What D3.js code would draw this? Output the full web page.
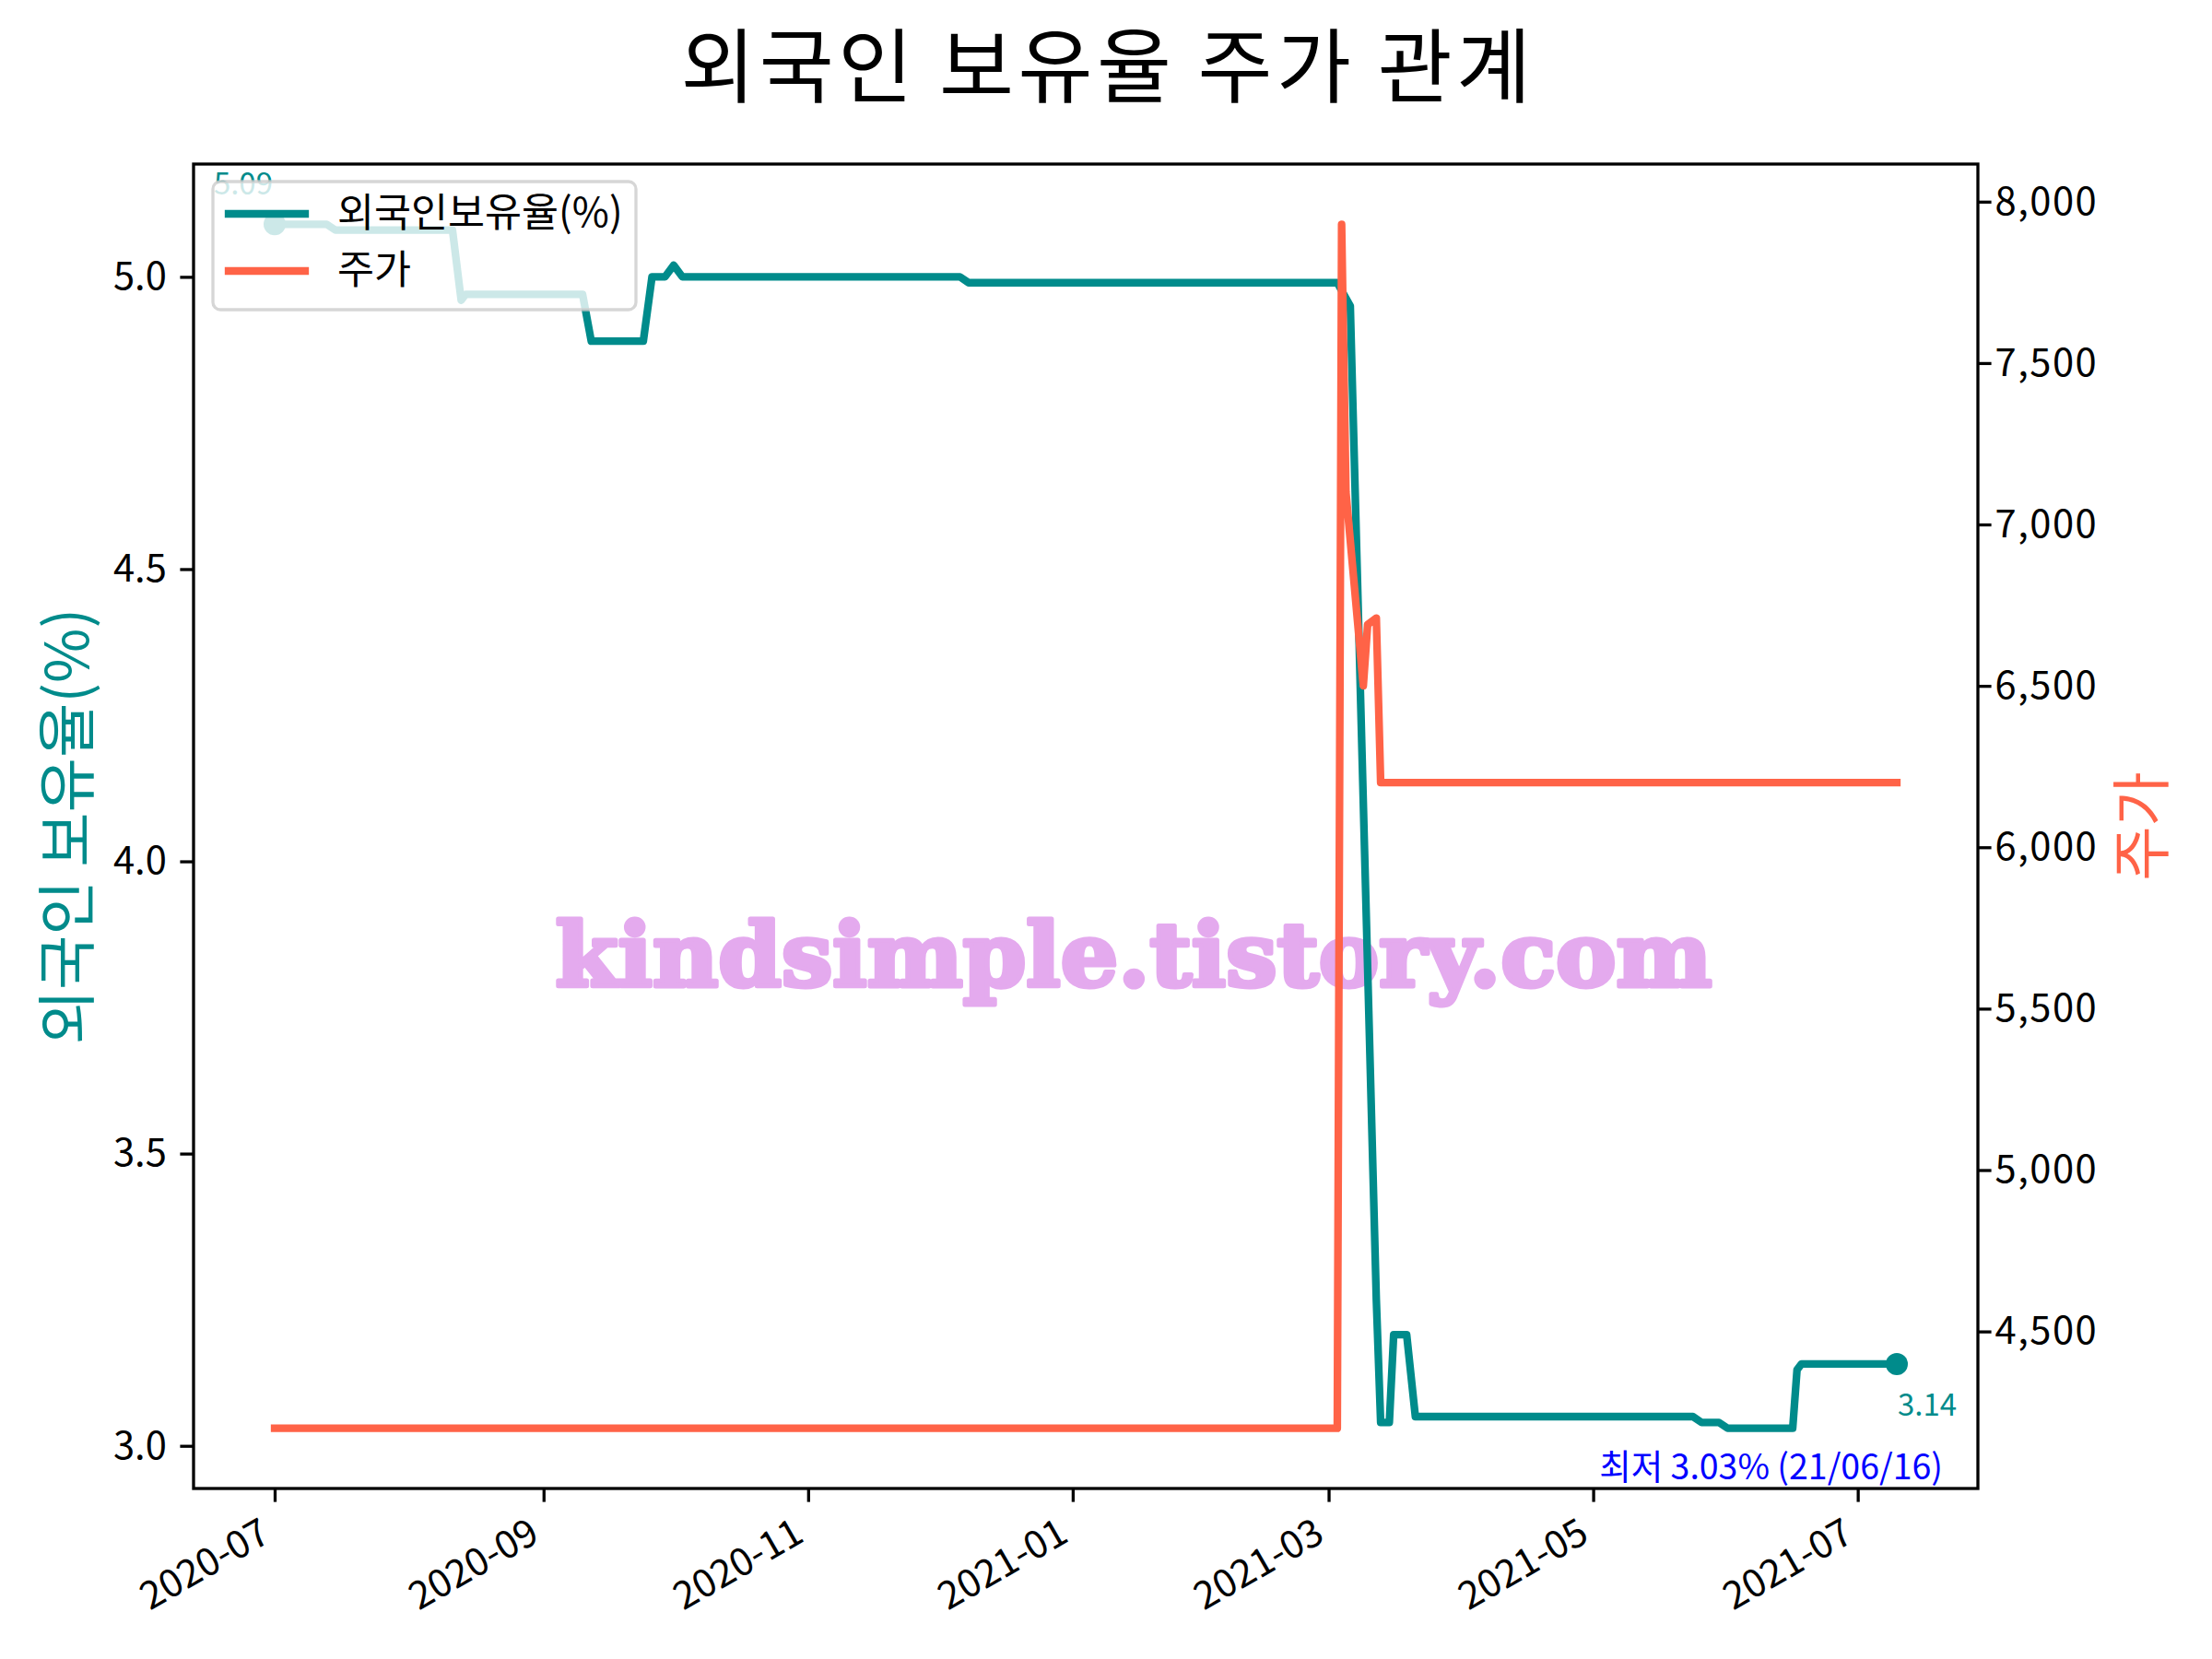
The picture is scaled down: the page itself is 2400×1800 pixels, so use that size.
<!DOCTYPE html>
<html><head><meta charset="utf-8">
<script src="https://cdn.jsdelivr.net/npm/d3@7"></script>
<style>
body{margin:0;background:#fff}
svg{display:block}
text{font-family:"Noto Sans CJK KR","Noto Sans",sans-serif}
</style>
</head><body>
<svg id="chart" width="2400" height="1800"></svg>
<script>
// ---------------- data ----------------
const titleText = "외국인 보유율 주가 관계";
const seriesNames = ["외국인보유율(%)", "주가"];
const leftLabel = "외국인 보유율(%)";
const rightLabel = "주가";
const watermark = "kindsimple.tistory.com";

const pctDates = ["2020-07-01","2020-07-13","2020-07-15","2020-08-11","2020-08-13","2020-08-14",
  "2020-09-10","2020-09-12","2020-09-24","2020-09-26","2020-09-29","2020-10-01","2020-10-03",
  "2020-12-06","2020-12-08","2021-03-03","2021-03-06","2021-03-12","2021-03-13","2021-03-15",
  "2021-03-16","2021-03-19","2021-03-21","2021-05-24","2021-05-26","2021-05-30","2021-06-01",
  "2021-06-16","2021-06-17","2021-06-18","2021-07-10"];
const pctValues = [5.09,5.09,5.08,5.08,4.96,4.97,
  4.97,4.89,4.89,5.00,5.00,5.02,5.00,
  5.00,4.99,4.99,4.95,3.25,3.04,3.04,
  3.19,3.19,3.05,3.05,3.04,3.04,3.03,
  3.03,3.13,3.14,3.14];

const priceDates = ["2020-07-01","2021-03-03","2021-03-04","2021-03-05","2021-03-09",
  "2021-03-10","2021-03-12","2021-03-13","2021-07-10"];
const priceValues = [4200,4200,7930,7100,6500,6690,6710,6200,6200];

const xTickLabels = ["2020-07","2020-09","2020-11","2021-01","2021-03","2021-05","2021-07"];
const yLeftTicks = [3.0,3.5,4.0,4.5,5.0];
const yRightTicks = [4500,5000,5500,6000,6500,7000,7500,8000];

// ---------------- layout ----------------
const W = 2400, H = 1800;
const L = 210, R = 2146, T = 178, B = 1615;
const TEAL = "#008B8B", TOMATO = "#FF6347";
const LW = 8.3, TICK = 14.6, PAD = 14.6, FS = 41.7;

const parse = d3.utcParse("%Y-%m-%d");
const parseM = d3.utcParse("%Y-%m");
const pct = pctDates.map((d,i)=>({date:parse(d), v:pctValues[i]}));
const price = priceDates.map((d,i)=>({date:parse(d), v:priceValues[i]}));

function padExtent(ext){ const s = ext[1]-ext[0]; return [ext[0]-0.05*s, ext[1]+0.05*s]; }

const allDates = pct.map(d=>d.date).concat(price.map(d=>d.date));
const dExt = d3.extent(allDates).map(d=>+d);
const x = d3.scaleUtc().domain(padExtent(dExt).map(d=>new Date(d))).range([L,R]);
const yL = d3.scaleLinear().domain(padExtent(d3.extent(pctValues))).range([B,T]);
const yR = d3.scaleLinear().domain(padExtent(d3.extent(priceValues))).range([B,T]);

const svg = d3.select("#chart");
svg.append("rect").attr("width",W).attr("height",H).attr("fill","#fff");

// title
svg.append("text").attr("x",1202).attr("y",104).attr("text-anchor","middle")
  .attr("font-size",88).attr("letter-spacing",4.5).attr("fill","#000").text(titleText);

// watermark (under lines)
svg.append("text").attr("x",1230).attr("y",1070).attr("text-anchor","middle")
  .attr("font-weight","bold").attr("font-size",96)
  .attr("textLength",1255).attr("lengthAdjust","spacingAndGlyphs")
  .attr("fill","#E4AAEE").attr("stroke","#E4AAEE").attr("stroke-width",5).attr("stroke-linejoin","round")
  .style("font-family","'DejaVu Serif',serif").text(watermark);

// teal line
const lineL = d3.line().x(d=>x(d.date)).y(d=>yL(d.v));
const lineR = d3.line().x(d=>x(d.date)).y(d=>yR(d.v));
svg.append("path").datum(pct).attr("d",lineL).attr("fill","none").attr("stroke",TEAL)
  .attr("stroke-width",LW).attr("stroke-linejoin","round").attr("stroke-linecap","square");

const first = pct[0], last = pct[pct.length-1];
svg.selectAll("circle.end").data([first,last]).join("circle").attr("class","end")
  .attr("cx",d=>x(d.date)).attr("cy",d=>yL(d.v)).attr("r",12).attr("fill",TEAL);

svg.append("text").attr("x",x(first.date)-2).attr("y",yL(first.v)-32).attr("text-anchor","end")
  .attr("font-size",33).attr("fill",TEAL).text(first.v.toFixed(2));
svg.append("text").attr("x",x(last.date)+1).attr("y",yL(last.v)+56).attr("text-anchor","start")
  .attr("font-size",33).attr("fill",TEAL).text(last.v.toFixed(2));

// min annotation
const minV = d3.min(pctValues);
let minIdx = 0; pct.forEach((d,i)=>{ if(d.v===minV) minIdx=i; });
const fmtMin = d3.utcFormat("%y/%m/%d");
svg.append("text").attr("x",2108).attr("y",1605).attr("text-anchor","end")
  .attr("font-size",37.5).attr("fill","#0000FF")
  .text(`최저 ${minV.toFixed(2)}% (${fmtMin(pct[minIdx].date)})`);

// price line
svg.append("path").datum(price).attr("d",lineR).attr("fill","none").attr("stroke",TOMATO)
  .attr("stroke-width",LW).attr("stroke-linejoin","round").attr("stroke-linecap","square");

// axes
function styleAxis(g){
  g.select(".domain").remove();
  g.selectAll(".tick line").attr("stroke","#000").attr("stroke-width",3.3);
  g.selectAll(".tick text").attr("font-size",FS).attr("fill","#000")
    .style("font-family","'Noto Sans CJK KR','Noto Sans',sans-serif");
}
const gL = svg.append("g").attr("transform",`translate(${L},0)`)
  .call(d3.axisLeft(yL).tickValues(yLeftTicks).tickFormat(d3.format(".1f")).tickSize(TICK).tickPadding(PAD));
styleAxis(gL);
const gR = svg.append("g").attr("transform",`translate(${R},0)`)
  .call(d3.axisRight(yR).tickValues(yRightTicks).tickFormat(d3.format(",")).tickSize(TICK).tickPadding(4));
styleAxis(gR);
gR.selectAll(".tick text").attr("letter-spacing",1.5);
const gB = svg.append("g").attr("transform",`translate(0,${B})`)
  .call(d3.axisBottom(x).tickValues(xTickLabels.map(parseM)).tickFormat(d3.utcFormat("%Y-%m")).tickSize(TICK).tickPadding(PAD));
styleAxis(gB);
gB.selectAll(".tick text").attr("text-anchor","end").attr("dy",null)
  .attr("y",null).attr("x",null)
  .attr("transform",`translate(-3,${TICK+PAD+27}) rotate(-30)`);

// spines
svg.append("rect").attr("x",L).attr("y",T).attr("width",R-L).attr("height",B-T)
  .attr("fill","none").attr("stroke","#000").attr("stroke-width",3.3);

// axis labels
svg.append("text").attr("transform",`translate(96,${(T+B)/2}) rotate(-90)`).attr("text-anchor","middle")
  .attr("font-size",64.5).attr("fill",TEAL).text(leftLabel);
svg.append("text").attr("transform",`translate(2347,${(T+B)/2}) rotate(-90)`).attr("text-anchor","middle")
  .attr("font-size",64.5).attr("fill",TOMATO).text(rightLabel);

// legend
const lg = svg.append("g");
lg.append("rect").attr("x",231).attr("y",197).attr("width",459).attr("height",139).attr("rx",8)
  .attr("fill","#fff").attr("fill-opacity",0.8).attr("stroke","#ccc").attr("stroke-opacity",0.8).attr("stroke-width",3.3);
const legendItems = [{name:seriesNames[0],color:TEAL},{name:seriesNames[1],color:TOMATO}];
legendItems.forEach((it,i)=>{
  const cy = 232 + i*62;
  lg.append("line").attr("x1",248).attr("x2",331).attr("y1",cy).attr("y2",cy)
    .attr("stroke",it.color).attr("stroke-width",LW).attr("stroke-linecap","square");
  lg.append("text").attr("x",366).attr("y",cy+14).attr("font-size",43.5).attr("fill","#000").text(it.name);
});
</script>
</body></html>
